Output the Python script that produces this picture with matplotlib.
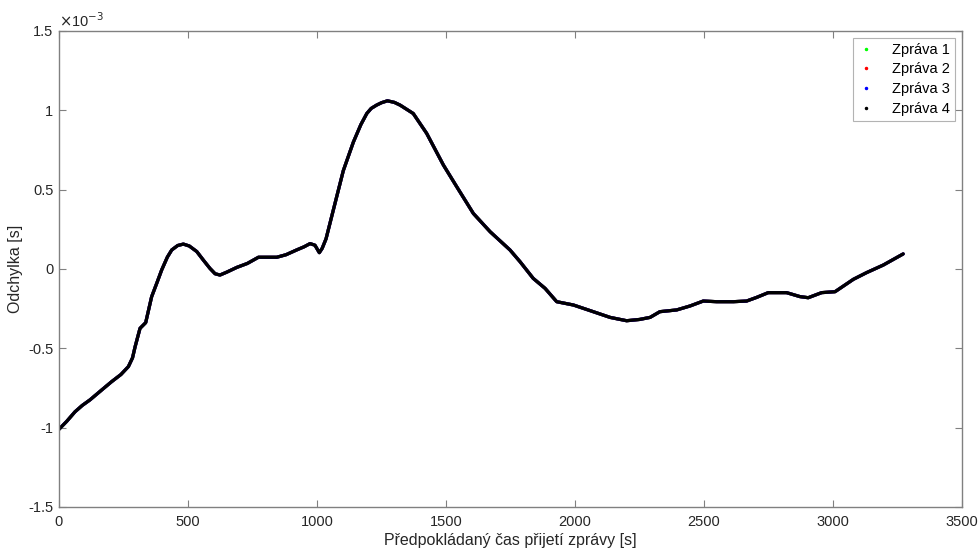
import matplotlib
matplotlib.use("Agg")
import matplotlib.pyplot as plt
from matplotlib.lines import Line2D
import numpy as np

plt.rcParams['font.family'] = ['Liberation Sans', 'DejaVu Sans']

# Expected message reception time [s]
time_s = [0, 30, 62, 90, 120, 160, 204, 240, 269, 285, 295, 314, 336, 359,
          380, 398, 420, 437, 460, 482, 505, 534, 560, 585, 605, 624, 650,
          689, 730, 773, 844, 880, 921, 950, 973, 992, 1009, 1020, 1035, 1063,
          1102, 1141, 1170, 1193, 1210, 1231, 1250, 1273, 1300, 1322, 1373,
          1425, 1490, 1541, 1606, 1671, 1748, 1787, 1838, 1884, 1929, 1994,
          2058, 2136, 2200, 2250, 2291, 2329, 2394, 2446, 2497, 2549, 2614,
          2665, 2704, 2749, 2820, 2872, 2904, 2956, 3008, 3079, 3130, 3195,
          3272]

# Deviation [1e-3 s]
offset_ms = [-1.01, -0.96, -0.90, -0.86, -0.825, -0.77, -0.71, -0.665,
             -0.615, -0.56, -0.49, -0.374, -0.338, -0.175, -0.085, -0.006,
             0.075, 0.12, 0.148, 0.157, 0.145, 0.11, 0.055, 0.004, -0.03,
             -0.038, -0.02, 0.01, 0.035, 0.074, 0.074, 0.09, 0.12, 0.14, 0.16,
             0.15, 0.103, 0.13, 0.19, 0.37, 0.62, 0.80, 0.91, 0.98, 1.012,
             1.033, 1.048, 1.06, 1.05, 1.033, 0.98, 0.855, 0.655, 0.52, 0.35,
             0.235, 0.12, 0.046, -0.059, -0.122, -0.206, -0.227, -0.262,
             -0.305, -0.326, -0.318, -0.305, -0.269, -0.258, -0.233, -0.202,
             -0.206, -0.206, -0.202, -0.179, -0.149, -0.149, -0.174, -0.181,
             -0.149, -0.143, -0.065, -0.023, 0.025, 0.095]

labels = ['Zpráva 1', 'Zpráva 2', 'Zpráva 3', 'Zpráva 4']
colors = ['#00ff00', '#ff0000', '#0000ff', '#000000']

x = np.array(time_s, dtype=float)
y = np.array(offset_ms) * 1e-3

fig = plt.figure(figsize=(9.79, 5.51), dpi=100)
ax = fig.add_axes([59 / 979, 1 - 507 / 551, (962 - 59) / 979, (507 - 31) / 551])

for lab, col in zip(labels, colors):
    ax.plot(x, y, color=col, lw=2.3, solid_capstyle='round',
            solid_joinstyle='round')

ax.set_xlim(0, 3500)
ax.set_ylim(-1.5e-3, 1.5e-3)
ax.set_xticks(np.arange(0, 3501, 500))
ax.set_yticks(np.arange(-1.5e-3, 1.51e-3, 0.5e-3))
ax.set_yticklabels(['-1.5', '-1', '-0.5', '0', '0.5', '1', '1.5'])

axis_col = '#808080'
for sp in ax.spines.values():
    sp.set_color(axis_col)
    sp.set_linewidth(1.0)
ax.tick_params(direction='in', length=5, width=0.8, color=axis_col,
               labelcolor='#262626', labelsize=10.5, top=True, right=True,
               pad=4)
ax.tick_params(axis='x', pad=6)

ax.text(0.0, 1.003, r'$\times$10$^{-3}$', transform=ax.transAxes,
        fontsize=10.5, color='#262626', ha='left', va='bottom')

ax.set_xlabel('Předpokládaný čas přijetí zprávy [s]', fontsize=11.5,
              color='#262626', labelpad=3)
ax.set_ylabel('Odchylka [s]', fontsize=11.5, color='#262626', labelpad=4)

handles = [Line2D([], [], marker='.', ls='none', color=c, markersize=3)
           for c in colors]
leg = ax.legend(handles, labels, loc='upper right', fontsize=10.5,
                frameon=True, fancybox=False, borderaxespad=0.5,
                handlelength=1.2, handletextpad=1.2, labelspacing=0.4,
                borderpad=0.3)
leg.get_frame().set_edgecolor('#a0a0a0')
leg.get_frame().set_linewidth(0.8)
for t in leg.get_texts():
    t.set_color('#000000')

fig.savefig('out.png', dpi=100)
